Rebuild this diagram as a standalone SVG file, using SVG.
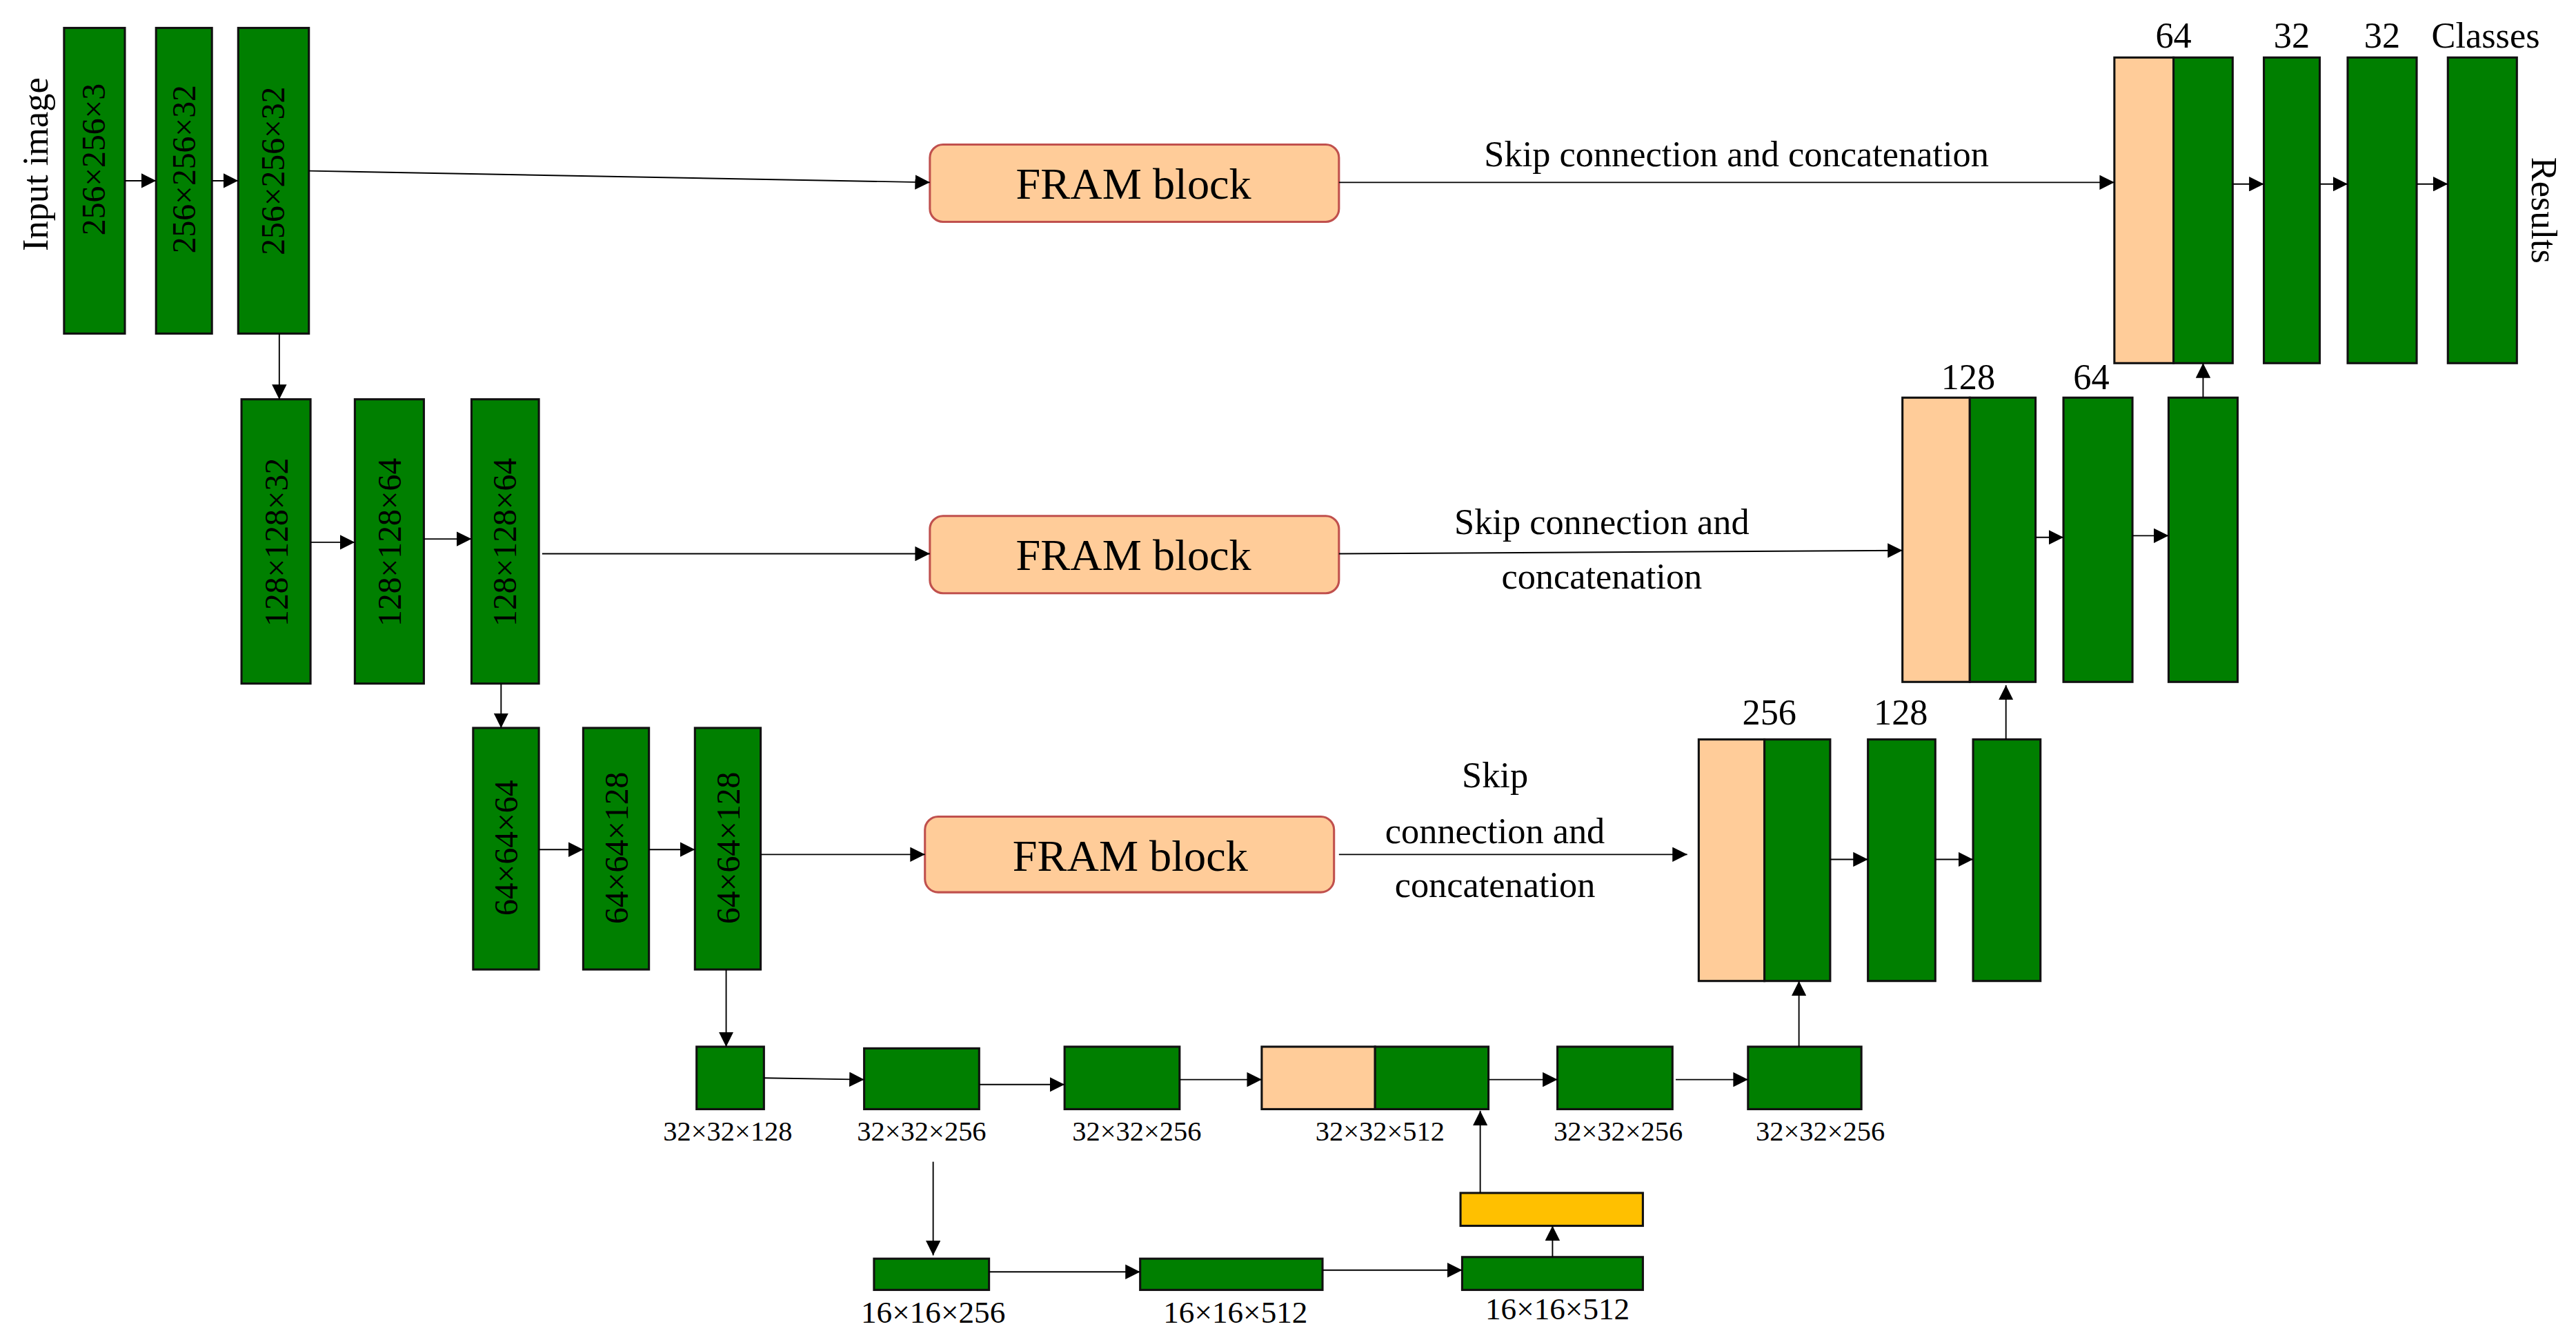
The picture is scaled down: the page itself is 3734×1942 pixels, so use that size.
<svg xmlns="http://www.w3.org/2000/svg" width="3734" height="1942" viewBox="0 0 3734 1942">
<defs>
<marker id="ah" viewBox="0 0 10 10" refX="10" refY="5" markerWidth="9" markerHeight="9" markerUnits="userSpaceOnUse" orient="auto"><path d="M0,0 L10,5 L0,10 z" fill="#000"/></marker>
<style>
.g{fill:#007F00;stroke:#111;stroke-width:1.3}
.p{fill:#FFCC99;stroke:#111;stroke-width:1.3}
.y{fill:#FFC000;stroke:#111;stroke-width:1.3}
.f{fill:#FFCC99;stroke:#C0504D;stroke-width:1.3}
.t{font-family:"Liberation Serif","Times New Roman",serif;fill:#000;text-anchor:middle}
.c line,.c path{stroke:#000;stroke-width:0.8;fill:none;marker-end:url(#ah)}
</style>
</defs>
<rect width="3734" height="1942" fill="#fff"/>
<g transform="scale(2.3814)">
<g id="labels">
<text class="t" font-size="22" transform="translate(29,100) rotate(-90)">Input image</text>
<text class="t" font-size="22" transform="translate(1541,128) rotate(90)">Results</text>
</g>
<g id="row1">
<rect class="g" x="39" y="17" width="37" height="186"/><text class="t" font-size="20" transform="translate(64,97) rotate(-90)">256×256×3</text>
<rect class="g" x="95" y="17" width="34" height="186"/><text class="t" font-size="20" transform="translate(119,103) rotate(-90)">256×256×32</text>
<rect class="g" x="145" y="17" width="43" height="186"/><text class="t" font-size="20" transform="translate(173,104) rotate(-90)">256×256×32</text>
</g>
<g id="row2">
<rect class="g" x="147" y="243" width="42" height="173"/><text class="t" font-size="20" transform="translate(175,330) rotate(-90)">128×128×32</text>
<rect class="g" x="216" y="243" width="42" height="173"/><text class="t" font-size="20" transform="translate(244,330) rotate(-90)">128×128×64</text>
<rect class="g" x="287" y="243" width="41" height="173"/><text class="t" font-size="20" transform="translate(314,330) rotate(-90)">128×128×64</text>
</g>
<g id="row3">
<rect class="g" x="288" y="443" width="40" height="147"/><text class="t" font-size="20" transform="translate(315,516) rotate(-90)">64×64×64</text>
<rect class="g" x="355" y="443" width="40" height="147"/><text class="t" font-size="20" transform="translate(382,516) rotate(-90)">64×64×128</text>
<rect class="g" x="423" y="443" width="40" height="147"/><text class="t" font-size="20" transform="translate(450,516) rotate(-90)">64×64×128</text>
</g>
<g id="fram">
<rect class="f" x="566" y="88" width="249" height="47" rx="8"/><text class="t" font-size="27" x="690" y="121">FRAM block</text>
<rect class="f" x="566" y="314" width="249" height="47" rx="8"/><text class="t" font-size="27" x="690" y="347">FRAM block</text>
<rect class="f" x="563" y="497" width="249" height="46" rx="8"/><text class="t" font-size="27" x="688" y="530">FRAM block</text>
</g>
<g id="skiplabels">
<text class="t" font-size="22" x="1057" y="101">Skip connection and concatenation</text>
<text class="t" font-size="22" x="975" y="325">Skip connection and</text>
<text class="t" font-size="22" x="975" y="358">concatenation</text>
<text class="t" font-size="22" x="910" y="479">Skip</text>
<text class="t" font-size="22" x="910" y="513">connection and</text>
<text class="t" font-size="22" x="910" y="546">concatenation</text>
</g>
<g id="dec1">
<rect class="p" x="1287" y="35" width="36" height="186"/><rect class="g" x="1323" y="35" width="36" height="186"/>
<rect class="g" x="1378" y="35" width="34" height="186"/>
<rect class="g" x="1429" y="35" width="42" height="186"/>
<rect class="g" x="1490" y="35" width="42" height="186"/>
<text class="t" font-size="22" x="1323" y="29">64</text>
<text class="t" font-size="22" x="1395" y="29">32</text>
<text class="t" font-size="22" x="1450" y="29">32</text>
<text class="t" font-size="22" x="1513" y="29">Classes</text>
</g>
<g id="dec2">
<rect class="p" x="1158" y="242" width="41" height="173"/><rect class="g" x="1199" y="242" width="40" height="173"/>
<rect class="g" x="1256" y="242" width="42" height="173"/>
<rect class="g" x="1320" y="242" width="42" height="173"/>
<text class="t" font-size="22" x="1198" y="237">128</text>
<text class="t" font-size="22" x="1273" y="237">64</text>
</g>
<g id="dec3">
<rect class="p" x="1034" y="450" width="40" height="147"/><rect class="g" x="1074" y="450" width="40" height="147"/>
<rect class="g" x="1137" y="450" width="41" height="147"/>
<rect class="g" x="1201" y="450" width="41" height="147"/>
<text class="t" font-size="22" x="1077" y="441">256</text>
<text class="t" font-size="22" x="1157" y="441">128</text>
</g>
<g id="row4">
<rect class="g" x="424" y="637" width="41" height="38"/>
<rect class="g" x="526" y="638" width="70" height="37"/>
<rect class="g" x="648" y="637" width="70" height="38"/>
<rect class="p" x="768" y="637" width="69" height="38"/><rect class="g" x="837" y="637" width="69" height="38"/>
<rect class="g" x="948" y="637" width="70" height="38"/>
<rect class="g" x="1064" y="637" width="69" height="38"/>
<text class="t" font-size="17" x="443" y="694">32×32×128</text>
<text class="t" font-size="17" x="561" y="694">32×32×256</text>
<text class="t" font-size="17" x="692" y="694">32×32×256</text>
<text class="t" font-size="17" x="840" y="694">32×32×512</text>
<text class="t" font-size="17" x="985" y="694">32×32×256</text>
<text class="t" font-size="17" x="1108" y="694">32×32×256</text>
</g>
<g id="row5">
<rect class="g" x="532" y="766" width="70" height="19"/>
<rect class="g" x="694" y="766" width="111" height="19"/>
<rect class="g" x="890" y="765" width="110" height="20"/>
<rect class="y" x="889" y="726" width="111" height="20"/>
<text class="t" font-size="19" x="568" y="805">16×16×256</text>
<text class="t" font-size="19" x="752" y="805">16×16×512</text>
<text class="t" font-size="19" x="948" y="803">16×16×512</text>
</g>
<g class="c" id="connectors">
<line x1="76" y1="110" x2="95" y2="110"/>
<line x1="129" y1="110" x2="145" y2="110"/>
<line x1="188" y1="104" x2="566" y2="111"/>
<line x1="815" y1="111" x2="1287" y2="111"/>
<line x1="1359" y1="112" x2="1378" y2="112"/>
<line x1="1412" y1="112" x2="1429" y2="112"/>
<line x1="1471" y1="112" x2="1490" y2="112"/>
<line x1="170" y1="203" x2="170" y2="243"/>
<line x1="189" y1="330" x2="216" y2="330"/>
<line x1="258" y1="328" x2="287" y2="328"/>
<line x1="330" y1="337" x2="566" y2="337"/>
<line x1="815" y1="337" x2="1158" y2="335"/>
<line x1="1239" y1="327" x2="1256" y2="327"/>
<line x1="1298" y1="326" x2="1320" y2="326"/>
<line x1="1341" y1="242" x2="1341" y2="221"/>
<line x1="305" y1="416" x2="305" y2="443"/>
<line x1="328" y1="517" x2="355" y2="517"/>
<line x1="395" y1="517" x2="423" y2="517"/>
<line x1="463" y1="520" x2="563" y2="520"/>
<line x1="815" y1="520" x2="1027" y2="520"/>
<line x1="1114" y1="523" x2="1137" y2="523"/>
<line x1="1178" y1="523" x2="1201" y2="523"/>
<line x1="1221" y1="450" x2="1221" y2="417"/>
<line x1="442" y1="590" x2="442" y2="637"/>
<line x1="465" y1="656" x2="526" y2="657"/>
<line x1="596" y1="660" x2="648" y2="660"/>
<line x1="718" y1="657" x2="768" y2="657"/>
<line x1="906" y1="657" x2="948" y2="657"/>
<line x1="1020" y1="657" x2="1064" y2="657"/>
<line x1="1095" y1="637" x2="1095" y2="597"/>
<line x1="568" y1="707" x2="568" y2="764"/>
<line x1="602" y1="774" x2="694" y2="774"/>
<line x1="805" y1="773" x2="890" y2="773"/>
<line x1="945" y1="765" x2="945" y2="746"/>
<line x1="901" y1="726" x2="901" y2="676"/>
</g>
</g>
</svg>
